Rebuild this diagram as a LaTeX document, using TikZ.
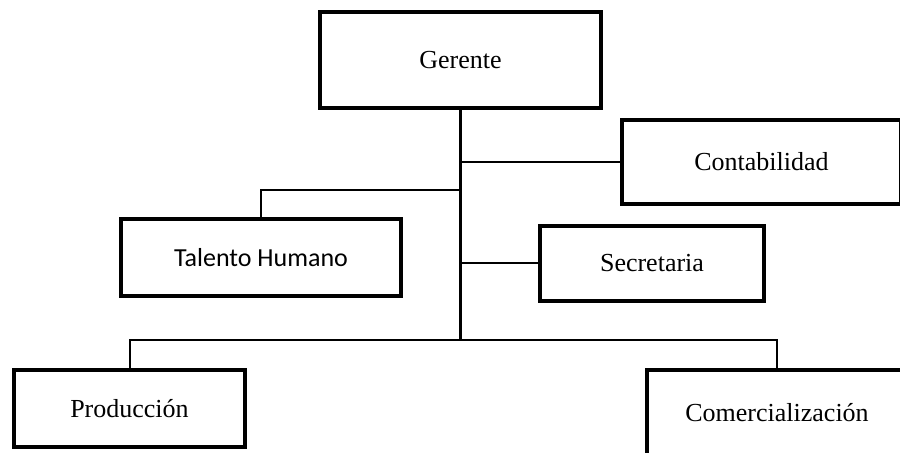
\documentclass[tikz,border=0pt]{standalone}
\usepackage{fontspec}
\setmainfont{Liberation Serif}
\newfontfamily\calibri{Carlito}
\usepackage{tikz}

\begin{document}
\begin{tikzpicture} [
    x=0.5pt, y=-0.5pt,
    every node/.style = {draw, rectangle, line width=2pt, inner sep=0pt, font=\fontsize{13}{15}\selectfont},
    branch/.style = {line width=1pt},
    trunk/.style = {line width=1.5pt}
]
    \clip (0,0) rectangle (900,453);
    \node (ger) at (460.5,60) [minimum width=140.5pt, minimum height=48pt] {Gerente};
    \node (con) at (761.5,162) [minimum width=139.5pt, minimum height=42pt] {Contabilidad};
    \node (tal) at (261,257.5) [minimum width=140pt, minimum height=38.5pt] {\calibri Talento Humano};
    \node (sec) at (652,263.5) [minimum width=112pt, minimum height=37.5pt] {Secretaria};
    \node (pro) at (129.5,408.5) [minimum width=115.5pt, minimum height=38.5pt] {Producción};
    \node (com) at (777,413) [minimum width=130pt, minimum height=43pt] {Comercialización};

    % tronco y ramas
    \coordinate (jn) at (460,340);
    \coordinate (tb) at (460,190);
    \draw [trunk] (ger.south) -- (ger.south |- jn);
    \draw [branch] (ger.south |- con.west) -- (con.west);
    \draw [branch] (ger.south |- sec.west) -- (sec.west);
    \draw [branch] (tb) -| (tal.north);
    \draw [branch] (pro.north) |- (jn) -| (com.north);
\end{tikzpicture}
\end{document}
